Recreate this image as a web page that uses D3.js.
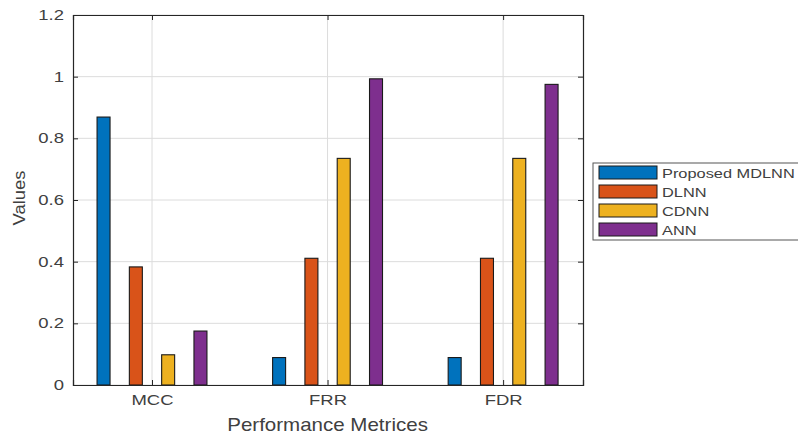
<!DOCTYPE html>
<html>
<head>
<meta charset="utf-8">
<script src="https://cdn.jsdelivr.net/npm/d3@7"></script>
<style>
  body { margin: 0; background: #fff; }
  svg { font-family: "Liberation Sans", Arial, sans-serif; }
</style>
</head>
<body>
<div id="chart"></div>
<script>
var svgWidth = 798;
var svgHeight = 434;

// data
var categories = ["MCC", "FRR", "FDR"];
var seriesNames = ["Proposed MDLNN", "DLNN", "CDNN", "ANN"];
var mdlnn = [0.869, 0.089, 0.089];
var dlnn = [0.383, 0.411, 0.411];
var cdnn = [0.098, 0.735, 0.735];
var ann = [0.175, 0.993, 0.975];
var yTicks = [0, 0.2, 0.4, 0.6, 0.8, 1, 1.2];

var series = [mdlnn, dlnn, cdnn, ann];
var colors = ["#0072BD", "#D95319", "#EDB120", "#7E2F8E"];

var margin = { top: 15, left: 73, right: 215, bottom: 49 };
var width = svgWidth - margin.left - margin.right;
var height = svgHeight - margin.top - margin.bottom;

// the reference text is drawn wide, so stretch it horizontally
var sx = 1.32;

var svg = d3.select("#chart")
    .append("svg")
    .attr("width", svgWidth)
    .attr("height", svgHeight);

var chartGroup = svg.append("g")
    .attr("transform", `translate(${margin.left}, ${margin.top})`);

// matlab style numeric x positions 1..3
var xScale = d3.scaleLinear()
    .domain([0.55, 3.455])
    .range([0, width]);

var yScale = d3.scaleLinear()
    .domain([0, 1.2])
    .range([height, 0]);

var axisColor = "#262626";
var textColor = "#404040";

// grid
chartGroup.append("g")
    .selectAll("line")
    .data(yTicks)
    .enter()
    .append("line")
    .attr("x1", 0)
    .attr("x2", width)
    .attr("y1", d => yScale(d))
    .attr("y2", d => yScale(d))
    .attr("stroke", "#dcdcdc")
    .attr("stroke-width", 1);

chartGroup.append("g")
    .selectAll("line")
    .data(categories)
    .enter()
    .append("line")
    .attr("x1", (d, i) => xScale(i + 1))
    .attr("x2", (d, i) => xScale(i + 1))
    .attr("y1", 0)
    .attr("y2", height)
    .attr("stroke", "#dcdcdc")
    .attr("stroke-width", 1);

// bars
var barStep = 0.184;
var barWidth = xScale(1.074) - xScale(1);

series.forEach(function (vals, s) {
    chartGroup.append("g")
        .selectAll("rect")
        .data(vals)
        .enter()
        .append("rect")
        .attr("x", (d, i) => xScale(i + 1 + (s - 1.5) * barStep) - barWidth / 2)
        .attr("y", d => yScale(d))
        .attr("width", barWidth)
        .attr("height", d => height - yScale(d))
        .attr("fill", colors[s])
        .attr("stroke", "#1a1a1a")
        .attr("stroke-width", 1.1);
});

// axes (ticks point inward, box on)
var leftAxis = d3.axisLeft(yScale).tickValues(yTicks).tickSize(-5).tickPadding(9)
    .tickFormat(d => d === 0 ? "0" : String(+d.toFixed(1)));
var bottomAxis = d3.axisBottom(xScale).tickValues([1, 2, 3]).tickSize(-5).tickPadding(10)
    .tickFormat(d => categories[d - 1]);

var yAxis = chartGroup.append("g").call(leftAxis);
var xAxis = chartGroup.append("g")
    .attr("transform", `translate(0, ${height})`)
    .call(bottomAxis);

chartGroup.append("g")
    .attr("transform", `translate(${width}, 0)`)
    .call(d3.axisRight(yScale).tickValues(yTicks).tickSize(-5).tickFormat(""));
chartGroup.append("g")
    .call(d3.axisTop(xScale).tickValues([1, 2, 3]).tickSize(-5).tickFormat(""));

chartGroup.selectAll(".domain").attr("stroke", axisColor).attr("stroke-width", 1.2);
chartGroup.selectAll(".tick line").attr("stroke", axisColor);
chartGroup.selectAll(".tick text")
    .attr("fill", textColor)
    .style("font-size", "14px");

// stretch tick labels around their anchor point
yAxis.selectAll(".tick text")
    .attr("x", -9 / sx)
    .attr("transform", `scale(${sx},1)`);
xAxis.selectAll(".tick text")
    .attr("transform", `scale(${sx},1)`);

// axis labels
svg.append("text")
    .attr("transform", `translate(25, ${margin.top + yScale(0.6) - 2}) rotate(-90) scale(1.15,1)`)
    .attr("text-anchor", "middle")
    .attr("fill", textColor)
    .style("font-size", "16px")
    .text("Values");

svg.append("text")
    .attr("transform", `translate(${margin.left + xScale(2)}, 431) scale(1.14,1)`)
    .attr("text-anchor", "middle")
    .attr("fill", textColor)
    .style("font-size", "18px")
    .text("Performance Metrices");

// legend (box runs off the right edge like the reference)
var legend = svg.append("g").attr("transform", "translate(593, 163)");
legend.append("rect")
    .attr("x", 0)
    .attr("y", 0)
    .attr("width", 230)
    .attr("height", 77)
    .attr("fill", "#fff")
    .attr("stroke", "#555")
    .attr("stroke-width", 1);

var rows = legend.selectAll("g.row")
    .data(seriesNames)
    .enter()
    .append("g")
    .attr("class", "row")
    .attr("transform", (d, i) => `translate(6, ${3 + i * 19})`);

rows.append("rect")
    .attr("width", 58)
    .attr("height", 13)
    .attr("fill", (d, i) => colors[i])
    .attr("stroke", "#1a1a1a")
    .attr("stroke-width", 1);

rows.append("text")
    .attr("transform", `translate(63, 12) scale(1.26,1)`)
    .attr("fill", textColor)
    .style("font-size", "13px")
    .text(d => d);
</script>
</body>
</html>
